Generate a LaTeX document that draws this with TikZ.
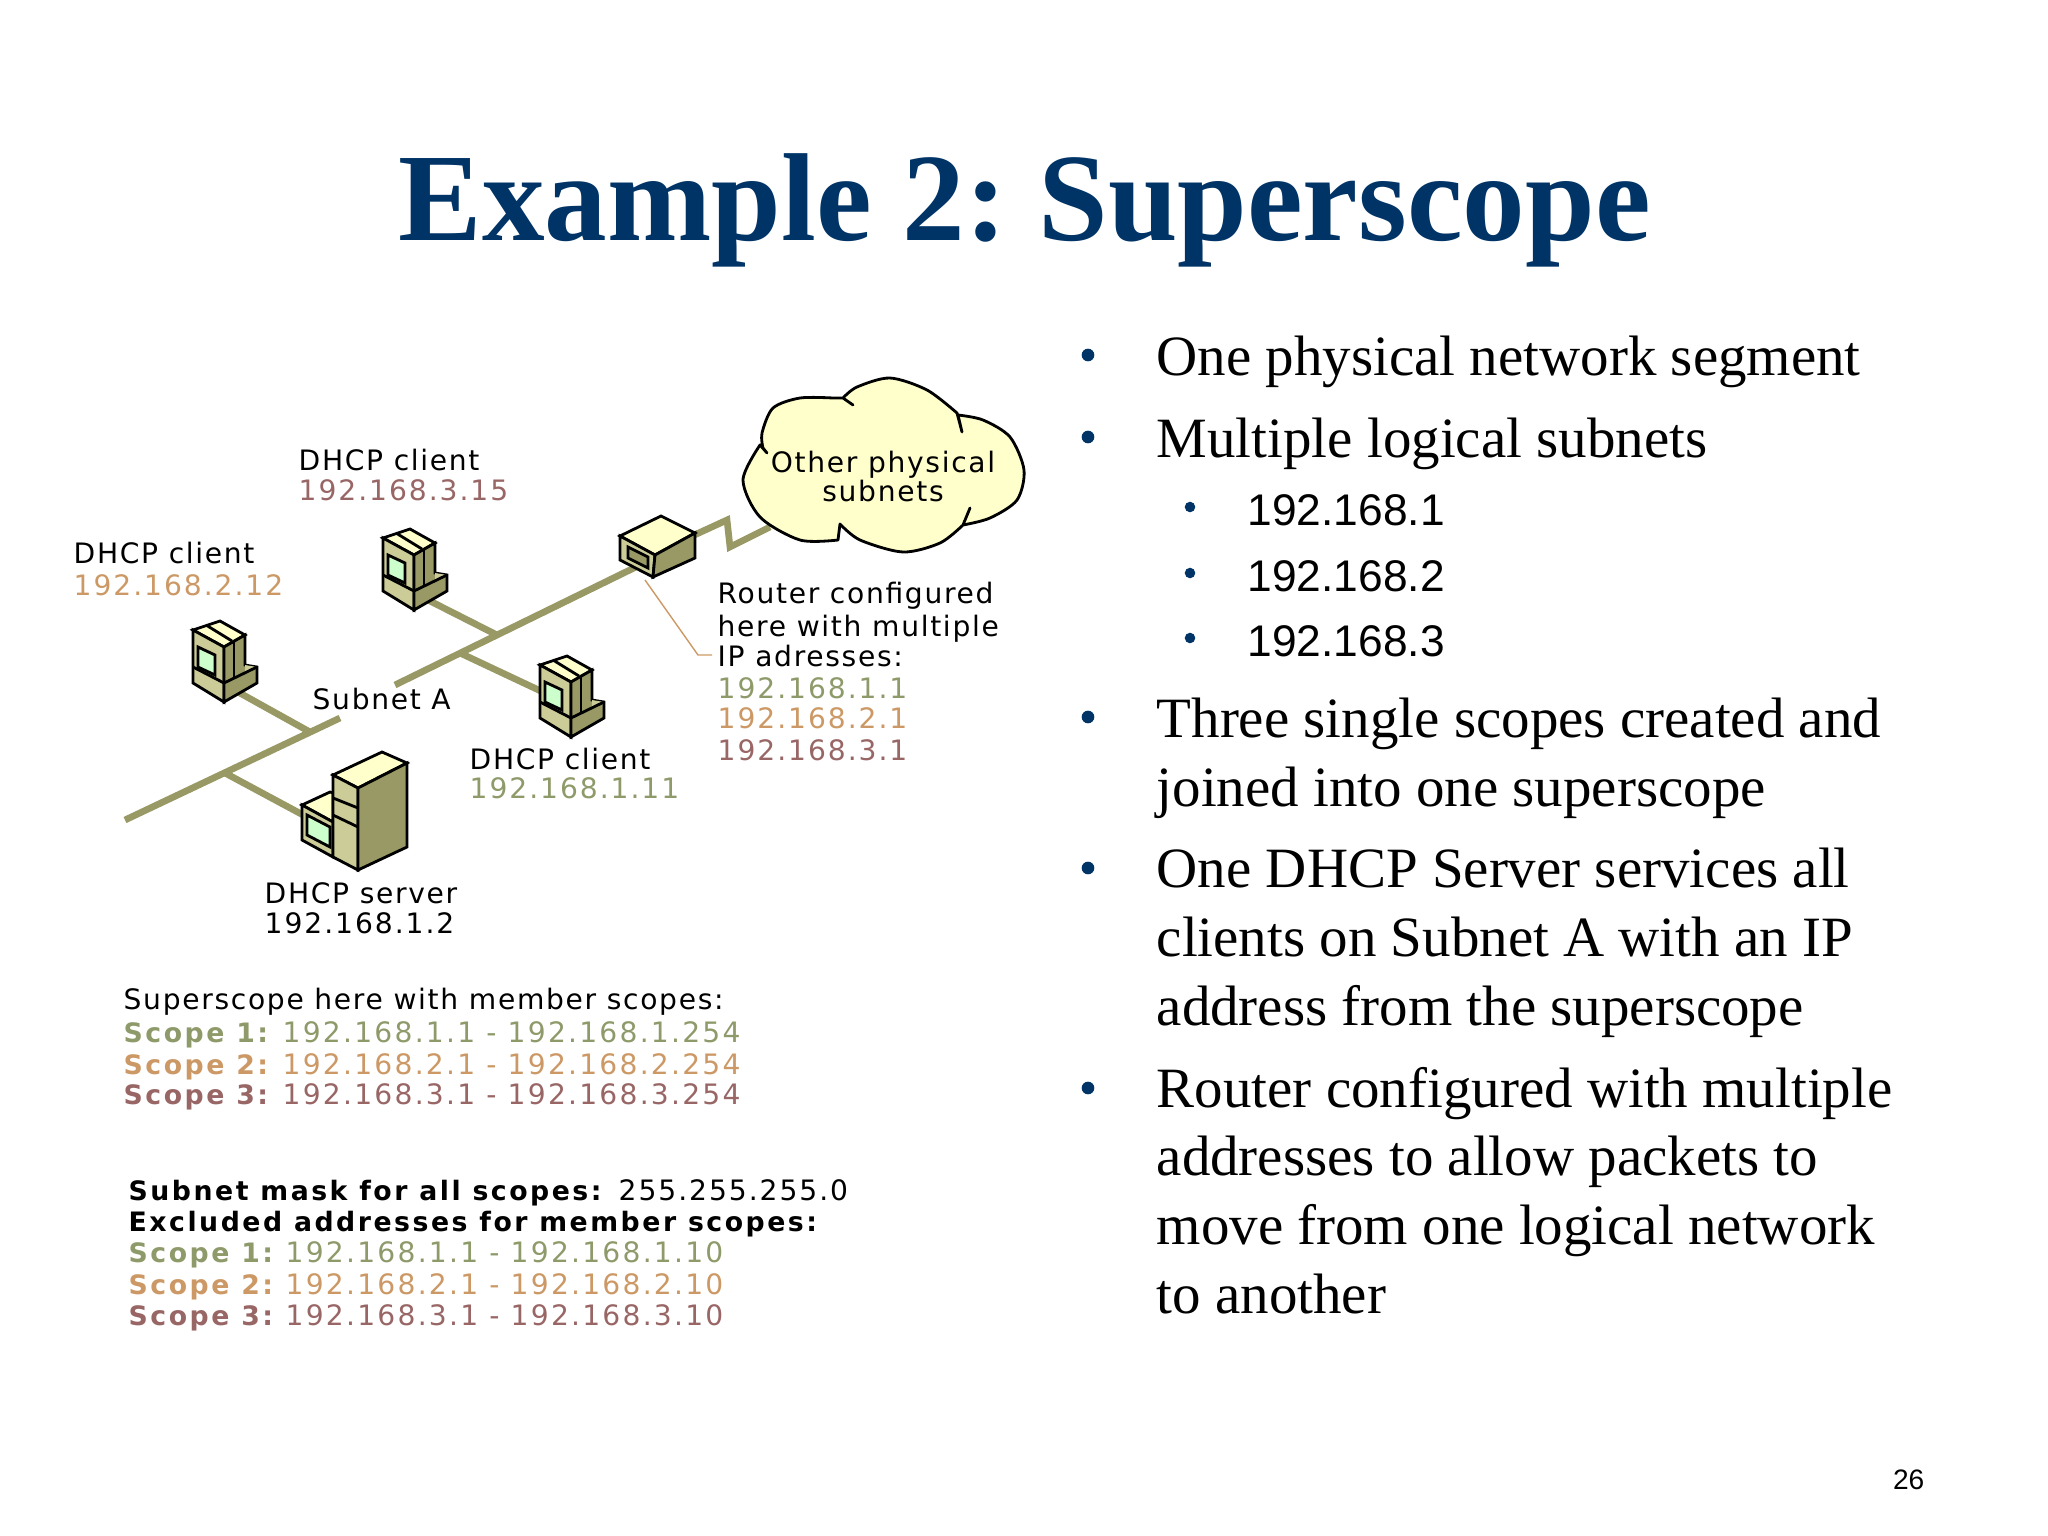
\documentclass[tikz,border=0pt]{standalone}
\usepackage{fontspec}
\setmainfont{Liberation Serif}
\newfontfamily\armfont{Liberation Sans}
\newfontfamily\pixfont[LetterSpace=6]{DejaVu Sans}
\newfontfamily\ipfont[LetterSpace=7]{DejaVu Sans}
\newfontfamily\rangefont[LetterSpace=8]{DejaVu Sans}
\newfontfamily\heavyfont[LetterSpace=9.4]{DejaVu Sans}
\usepackage{tikz}
\usetikzlibrary{positioning}
\definecolor{navy}{HTML}{003366}
\definecolor{cable}{HTML}{999966}
\definecolor{beige}{HTML}{CCCC99}
\definecolor{cream}{HTML}{FFFFCC}
\definecolor{mint}{HTML}{CCFFCC}
\definecolor{gscope}{HTML}{8E9A6A}
\definecolor{oscope}{HTML}{CC9966}
\definecolor{mscope}{HTML}{996666}
\tikzset{title/.style={anchor=base west,inner sep=0pt,text=navy,font=\fontsize{35.6}{38}\selectfont\bfseries}}
\tikzset{body/.style={anchor=base west,inner sep=0pt,align=left,font=\fontsize{16.2}{19.5}\selectfont}}
\tikzset{sub/.style={anchor=base west,inner sep=0pt,font=\armfont\fontsize{12.6}{15}\selectfont}}
\tikzset{dot/.style={circle,fill=navy,inner sep=0pt,minimum size=#1}}
\tikzset{lbl/.style={anchor=base west,inner sep=0pt,font=\pixfont\fontsize{8}{9}\selectfont}}
\tikzset{iplbl/.style={lbl,font=\ipfont\fontsize{8}{9}\selectfont}}
\tikzset{rnglbl/.style={lbl,font=\rangefont\fontsize{8}{9}\selectfont}}
\tikzset{blbl/.style={lbl,font=\heavyfont\bfseries\fontsize{7.6}{9}\selectfont}}
\tikzset{wire/.style={draw=cable,line width=1.9pt}}
\tikzset{clientpc/.pic={
  \filldraw[fill=cream,thick] (1,9) -- (28,0) -- (53,14) -- (32,26) -- cycle;
  \filldraw[fill=beige,thick] (1,9) -- (32,26) -- (32,81) -- (1,62) -- cycle;
  \filldraw[fill=cable,thick] (32,26) -- (53,14) -- (53,44) -- (65,46) -- (65,62) -- (32,81) -- cycle;
  \fill[beige] (32,62) -- (53,52) -- (53,44) -- (65,46) -- cycle;
  \filldraw[fill=mint,thick] (6,26) -- (23,34) -- (23,54) -- (6,46) -- cycle;
  \draw[thick] (1,46) -- (32,62) -- (65,46);
  \draw[thick] (14,4) -- (40,20);
  \draw[thick] (42,20) -- (42,57);
  \draw[thick] (32,26) -- (32,81);
}}
\tikzset{serverpc/.pic={
  \filldraw[fill=cream,thick] (42,75) -- (70,62) -- (73,63) -- (73,92) -- cycle;
  \filldraw[fill=beige,thick] (42,75) -- (73,92) -- (73,127) -- (42,110) -- cycle;
  \filldraw[fill=mint,thick] (47,85) -- (70,97) -- (70,117) -- (47,105) -- cycle;
  \filldraw[fill=cream,thick] (73,45) -- (122,22) -- (147,33) -- (98,58) -- cycle;
  \filldraw[fill=beige,thick] (73,45) -- (98,58) -- (98,140) -- (73,127) -- cycle;
  \filldraw[fill=cable,thick] (98,58) -- (147,33) -- (147,117) -- (98,140) -- cycle;
  \draw[thick] (73,68) -- (98,78);
  \draw[thick] (73,85) -- (98,97);
}}
\tikzset{routerbox/.pic={
  \filldraw[fill=cream,thick] (0,20) -- (41,0) -- (75,17) -- (35,39) -- cycle;
  \filldraw[fill=beige,thick] (0,20) -- (35,39) -- (33,61) -- (0,44) -- cycle;
  \filldraw[fill=cable,thick] (35,39) -- (75,17) -- (75,42) -- (33,61) -- cycle;
  \filldraw[fill=cable,thick] (8,31) -- (28,41) -- (28,52) -- (8,42) -- cycle;
}}

\begin{document}
\frenchspacing
\begin{tikzpicture}[x=0.01cm,y=-0.01cm]
\useasboundingbox (0,0) rectangle (2048,1536);

\node[title] (head) at (398,240) {Example 2: Superscope};

% bullets on the right
\node[dot=3.6pt] (b1) at (1088,355) {};
\node[body] (t1) at (1156,375) {One physical network segment};
\node[dot=3.6pt] (b2) at (1088,437) {};
\node[body] (t2) at (1156,457) {Multiple logical subnets};
\node[dot=3pt] (s1) at (1190,507) {};
\node[sub] (u1) at (1247,525) {192.168.1};
\node[dot=3pt] (s2) at (1190,573) {};
\node[sub] (u2) at (1247,591) {192.168.2};
\node[dot=3pt] (s3) at (1190,638) {};
\node[sub] (u3) at (1247,656) {192.168.3};
\node[dot=3.6pt] (b3) at (1088,717) {};
\node[body] (t3) at (1156,806) {Three single scopes created and\\joined into one superscope};
\node[dot=3.6pt] (b4) at (1088,868) {};
\node[body] (t4) at (1156,1025) {One DHCP Server services all\\clients on Subnet A with an IP\\address from the superscope};
\node[dot=3.6pt] (b5) at (1088,1088) {};
\node[body] (t5) at (1156,1313) {Router configured with multiple\\addresses to allow packets to\\move from one logical network\\to another};
\node[anchor=base east,inner sep=0pt,font=\armfont\fontsize{8}{10}\selectfont] (pageno) at (1925,1489) {26};

% network
\coordinate (busstart) at (125,820);
\coordinate (busgapA) at (340,718);
\coordinate (busgapB) at (395,685);
\coordinate (routerport) at (640,565);
\coordinate (srvjoin) at (225,773);
\coordinate (srvport) at (305,816);
\coordinate (joinB) at (310,732);
\coordinate (portB) at (238,692);
\coordinate (joinC) at (497,635);
\coordinate (portC) at (428,600);
\coordinate (joinD) at (460,653);
\coordinate (portD) at (545,693);
\coordinate (cloudport) at (770,527);
\coordinate (routerout) at (690,537);
\coordinate (kinkA) at (727,520);
\coordinate (kinkB) at (730,547);
\coordinate (leadfoot) at (645,580);
\coordinate (leadbend) at (698,655);
\coordinate (leadend) at (712,655);

\draw[wire] (busstart) -- (busgapA);
\draw[wire] (busgapB) -- (routerport);
\draw[wire] (srvjoin) -- (srvport);
\draw[wire] (joinB) -- (portB);
\draw[wire] (joinC) -- (portC);
\draw[wire] (joinD) -- (portD);
\draw[wire] (routerout) -- (kinkA) -- (kinkB) -- (cloudport);
\draw[oscope,line width=0.4pt] (leadfoot) -- (leadbend) -- (leadend);

\pic (srv) at (260,730) {serverpc};
\pic (pcB) at (192,621) {clientpc};
\pic (pcC) at (382,529) {clientpc};
\pic (pcD) at (539,656) {clientpc};
\pic (rtr) at (620,516) {routerbox};

% cloud
\filldraw[fill=cream,thick,line join=round]
  plot[smooth] coordinates {(760,445) (743,480) (760,517) (800,540) (838,540)}
  -- (840,524)
  -- plot[smooth] coordinates {(840,524) (860,540) (903,552) (940,543) (963,525)}
  -- (970,508) -- (963,525)
  -- plot[smooth] coordinates {(963,525) (990,518) (1017,500) (1024,470) (1010,437) (983,420) (958,415)}
  -- (962,432) -- (957,413)
  -- plot[smooth] coordinates {(957,413) (927,390) (890,378) (857,387) (843,398)}
  -- (853,405) -- (843,398)
  -- plot[smooth] coordinates {(833,398) (800,398) (773,408) (762,433) (763,448)}
  -- (767,453) -- cycle;
\node[lbl,anchor=base] (cloudA) at (883,472) {Other physical};
\node[lbl,anchor=base] (cloudB) at (883,501) {subnets};

% labels
\node[lbl] (lA) at (298,470) {DHCP client};
\node[iplbl,text=mscope] (ipA) at (298,500) {192.168.3.15};
\node[lbl] (lB) at (73,563) {DHCP client};
\node[iplbl,text=oscope] (ipB) at (73,595) {192.168.2.12};
\node[lbl] (lnet) at (312,709) {Subnet A};
\node[lbl] (lC) at (469,769) {DHCP client};
\node[iplbl,text=gscope] (ipC) at (469,798) {192.168.1.11};
\node[lbl] (lS) at (264,903) {DHCP server};
\node[iplbl] (ipS) at (264,933) {192.168.1.2};
\node[lbl] (rA) at (717,603) {Router configured};
\node[lbl] (rB) at (717,636) {here with multiple};
\node[lbl] (rC) at (717,666) {IP adresses:};
\node[iplbl,text=gscope] (rD) at (717,698) {192.168.1.1};
\node[iplbl,text=oscope] (rE) at (717,728) {192.168.2.1};
\node[iplbl,text=mscope] (rF) at (717,760) {192.168.3.1};

% superscope block
\node[lbl] (sHead) at (123,1009) {Superscope here with member scopes:};
\node[blbl,text=gscope] (sA) at (123,1042) {Scope 1:};
\node[rnglbl,text=gscope] (sAip) at (282,1042) {192.168.1.1 - 192.168.1.254};
\node[blbl,text=oscope] (sB) at (123,1074) {Scope 2:};
\node[rnglbl,text=oscope] (sBip) at (282,1074) {192.168.2.1 - 192.168.2.254};
\node[blbl,text=mscope] (sC) at (123,1104) {Scope 3:};
\node[rnglbl,text=mscope] (sCip) at (282,1104) {192.168.3.1 - 192.168.3.254};

% excluded block
\node[blbl] (mHead) at (128,1200) {Subnet mask for all scopes:};
\node[iplbl] (mVal) at (618,1200) {255.255.255.0};
\node[blbl] (xHead) at (128,1231) {Excluded addresses for member scopes:};
\node[blbl,text=gscope] (xA) at (128,1262) {Scope 1:};
\node[rnglbl,text=gscope] (xAip) at (285,1262) {192.168.1.1 - 192.168.1.10};
\node[blbl,text=oscope] (xB) at (128,1294) {Scope 2:};
\node[rnglbl,text=oscope] (xBip) at (285,1294) {192.168.2.1 - 192.168.2.10};
\node[blbl,text=mscope] (xC) at (128,1325) {Scope 3:};
\node[rnglbl,text=mscope] (xCip) at (285,1325) {192.168.3.1 - 192.168.3.10};
\end{tikzpicture}
\end{document}
